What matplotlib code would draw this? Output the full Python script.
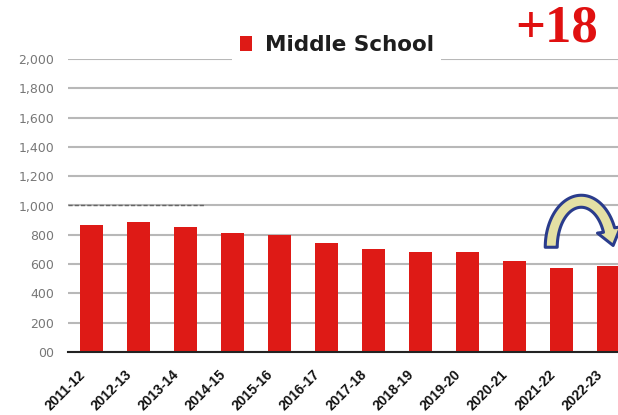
import numpy as np
import matplotlib.pyplot as plt
from matplotlib.patches import Polygon, Patch
from matplotlib.transforms import IdentityTransform, ScaledTranslation

# enrolment by school year
years = ["2011-12", "2012-13", "2013-14", "2014-15", "2015-16", "2016-17",
         "2017-18", "2018-19", "2019-20", "2020-21", "2021-22", "2022-23"]
middle = [865, 888, 852, 814, 801, 741, 705, 682, 683, 619, 570, 588]

yticks = [0, 200, 400, 600, 800, 1000, 1200, 1400, 1600, 1800, 2000]
ytick_labels = ["00", "200", "400", "600", "800", "1,000", "1,200",
                "1,400", "1,600", "1,800", "2,000"]

change_label = "+18"

RED = "#de1a16"

fig = plt.figure(figsize=(6.18, 4.15), dpi=100)
# plot area runs past the right edge of the figure
ax = fig.add_axes([68 / 618, 63 / 415, 564 / 618, 293 / 415])

x = np.arange(len(years))
ax.bar(x, middle, width=0.49, color=RED, zorder=3)

ax.set_xlim(-0.5, len(years) - 0.5)
ax.set_ylim(0, 2000)
ax.set_yticks(yticks)
ax.set_yticklabels(ytick_labels)
ax.set_xticks(x)
ax.set_xticklabels(years, rotation=45, ha="right", rotation_mode="anchor",
                   fontsize=10, fontweight="bold", family="Liberation Sans",
                   color="#111111")
ax.tick_params(axis="y", length=0, pad=10, labelsize=9, labelcolor="#777777")
ax.tick_params(axis="x", length=0, pad=7)
shift = ScaledTranslation(-0.135, -0.06, fig.dpi_scale_trans)
for lab in ax.get_xticklabels():
    lab.set_transform(lab.get_transform() + shift)

ax.grid(axis="y", color="#b8b8b8", linewidth=1.5, zorder=0)
ax.set_axisbelow(True)
for s in ["top", "right", "left"]:
    ax.spines[s].set_visible(False)
ax.spines["bottom"].set_color("#222222")
ax.spines["bottom"].set_linewidth(1.5)
ax.spines["bottom"].set_zorder(4)

# dotted target segment on the 1,000 line
ax.plot([-0.5, 2.4], [1000, 1000], color="#666666", lw=1.0,
        ls=(0, (3, 1.5)), zorder=1)

# legend sits over the top gridline
leg = ax.legend(handles=[Patch(facecolor=RED, label="Middle School")],
                loc="center", bbox_to_anchor=(0.545, 0.891),
                bbox_transform=fig.transFigure,
                prop={"family": "DejaVu Sans", "weight": "bold", "size": 15.5},
                frameon=True, facecolor="white", edgecolor="none",
                framealpha=1, handlelength=0.55, handleheight=0.65,
                handletextpad=0.6, borderpad=0.35, fancybox=False)
leg.get_frame().set_linewidth(0)
for t in leg.get_texts():
    t.set_color("#1e1e1e")

fig.text(557 / 618, 1 - 28 / 415, change_label, ha="center", va="center",
         fontsize=38, fontweight="bold", family="Liberation Serif",
         color="#e01010")

# curved arrow from 2021-22 over to 2022-23
fig.canvas.draw()
cx, cy = ax.transData.transform((10.42, 715))
a, b, w = 30, 46, 6
t = np.linspace(np.pi, np.radians(22), 60)
outer = np.column_stack([cx + (a + w) * np.cos(t), cy + (b + w) * np.sin(t)])
inner = np.column_stack([cx + (a - w) * np.cos(t), cy + (b - w) * np.sin(t)])
end = np.array([cx + a * np.cos(t[-1]), cy + b * np.sin(t[-1])])
d = np.array([a * np.sin(t[-1]), -b * np.cos(t[-1])])
d = d / np.hypot(*d)
nrm = np.array([d[1], -d[0]])
if np.dot(nrm, outer[-1] - end) < 0:
    nrm = -nrm
pts = np.vstack([outer, [end + nrm * 12], [end + d * 16], [end - nrm * 12],
                 inner[::-1]])
arrow = Polygon(pts, closed=True, facecolor="#e4e0a4", edgecolor="#2a3c8c",
                linewidth=2.2, joinstyle="round",
                transform=IdentityTransform(), zorder=10)
fig.add_artist(arrow)

fig.savefig("out.png", dpi=100)
